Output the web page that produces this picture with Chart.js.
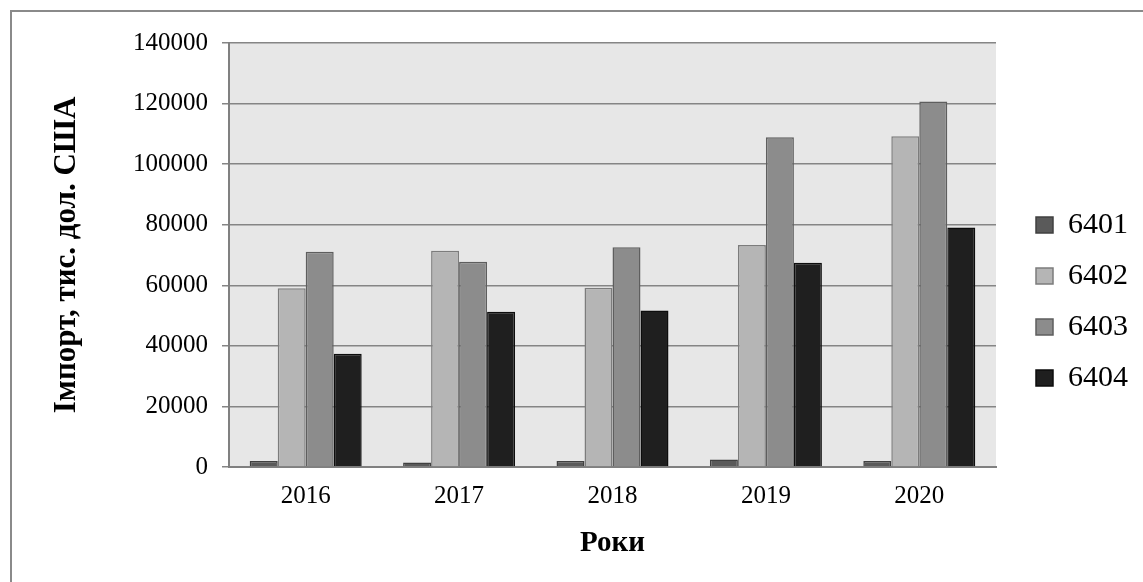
<!DOCTYPE html>
<html>
<head>
<meta charset="utf-8">
<script src="https://cdn.jsdelivr.net/npm/chart.js@4/dist/chart.umd.min.js"></script>
<style>
  html, body { margin: 0; padding: 0; background: #ffffff; }
  canvas { display: block; }
</style>
</head>
<body>
<canvas id="c" width="1143" height="582"></canvas>
<script>
// ---- data ----
const categories = ['2016', '2017', '2018', '2019', '2020'];
const s6401 = [2000, 1500, 2000, 2500, 2000];
const s6402 = [59000, 71400, 59200, 73300, 109200];
const s6403 = [71100, 67800, 72600, 108900, 120700];
const s6404 = [37400, 51300, 51700, 67400, 79100];
const seriesNames = ['6401', '6402', '6403', '6404'];
const yTitle = 'Імпорт, тис. дол. США';
const xTitle = 'Роки';

const SERIF = '"Liberation Serif", "Times New Roman", serif';

const bgPlugin = {
  id: 'bgPlugin',
  beforeDraw(chart) {
    const ctx = chart.ctx;
    const a = chart.chartArea;
    ctx.save();
    ctx.fillStyle = '#ffffff';
    ctx.fillRect(0, 0, chart.width, chart.height);
    ctx.fillStyle = '#e7e7e7';
    ctx.fillRect(a.left, a.top, a.right - a.left, a.bottom - a.top);
    // outer frame (left and top edges visible)
    ctx.strokeStyle = '#8a8a8a';
    ctx.lineWidth = 2;
    ctx.beginPath();
    ctx.moveTo(11, chart.height + 5);
    ctx.lineTo(11, 11);
    ctx.lineTo(chart.width + 5, 11);
    ctx.stroke();
    ctx.restore();
  }
};

const legendFix = {
  id: 'legendFix',
  beforeLayout(chart) {
    const lg = chart.legend;
    if (lg && !lg.__fx) {
      const f = lg.fit;
      lg.fit = function () { f.call(this); this.width = 147; };
      lg.__fx = true;
    }
  },
  afterLayout(chart) {
    const lg = chart.legend;
    if (!lg || !lg.columnSizes || !lg.columnSizes.length) return;
    const pad = lg.options.labels.padding;
    const colH = lg.columnSizes[0].height;
    const y0 = 210;
    lg.top = y0 - pad;
    lg.bottom = y0 + colH;
    lg.height = lg.bottom - lg.top;
    lg.left = 1036 - pad;
    lg.right = chart.width;
    lg.width = lg.right - lg.left;
  }
};

new Chart(document.getElementById('c'), {
  type: 'bar',
  data: {
    labels: categories,
    datasets: [
      { label: seriesNames[0], data: s6401, backgroundColor: '#5a5a5a', borderColor: '#404040', borderWidth: 1.5 },
      { label: seriesNames[1], data: s6402, backgroundColor: '#b5b5b5', borderColor: '#7c7c7c', borderWidth: 1.5 },
      { label: seriesNames[2], data: s6403, backgroundColor: '#8c8c8c', borderColor: '#5e5e5e', borderWidth: 1.5 },
      { label: seriesNames[3], data: s6404, backgroundColor: '#1f1f1f', borderColor: '#0d0d0d', borderWidth: 1.5 }
    ]
  },
  options: {
    responsive: false,
    animation: false,
    layout: { padding: { left: 0, top: 43, right: 0, bottom: 0 } },
    datasets: { bar: { categoryPercentage: 0.73, barPercentage: 1.0 } },
    plugins: {
      tooltip: { enabled: false },
      legend: {
        position: 'right',
        align: 'center',
        labels: {
          color: '#000000',
          font: { family: SERIF, size: 30 },
          boxWidth: 17,
          boxHeight: 16,
          padding: 21
        }
      }
    },
    scales: {
      x: {
        grid: { display: false, drawTicks: false },
        border: { display: true, color: '#808080', width: 2 },
        ticks: { color: '#000000', font: { family: SERIF, size: 25 }, padding: 14 },
        title: { display: true, text: xTitle, color: '#000000', font: { family: SERIF, size: 29, weight: 'bold' }, padding: { top: 0, bottom: 21 } },
        afterFit(s) { s.height = 115; }
      },
      y: {
        min: 0,
        max: 140000,
        ticks: {
          stepSize: 20000,
          color: '#000000',
          font: { family: SERIF, size: 25 },
          padding: 14,
          callback: (v) => String(v)
        },
        grid: { color: '#858585', lineWidth: 1.5, drawTicks: true, tickLength: 7, tickColor: '#858585' },
        border: { display: true, color: '#808080', width: 2 },
        title: { display: true, text: yTitle, color: '#000000', font: { family: SERIF, size: 31, weight: 'bold' }, padding: { top: 48, bottom: 0 } },
        afterFit(s) { s.width = 229; }
      }
    }
  },
  plugins: [bgPlugin, legendFix]
});
</script>
</body>
</html>
